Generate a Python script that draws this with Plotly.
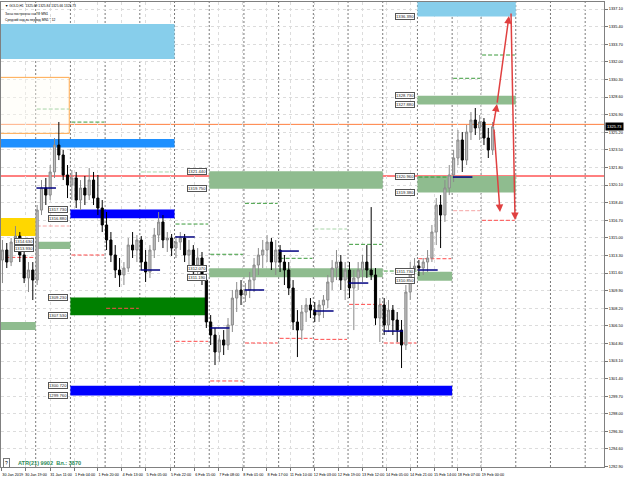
import plotly.graph_objects as go

# ---------------- data (H1 gold, shown as 3-hour candles; x = hour index) ----------------
OPEN = [1312.85, 1313.82, 1312.66, 1314.59, 1315.17, 1313.34, 1311.12, 1311.89, 1310.92, 1317.68,
        1319.81, 1319.13, 1321.36, 1323.96, 1323.00, 1321.07, 1320.10, 1320.78, 1318.65, 1319.81,
        1319.13, 1320.58, 1318.84, 1317.88, 1316.24, 1314.79, 1313.34, 1311.89, 1311.41, 1312.08,
        1314.30, 1313.82, 1314.79, 1312.66, 1311.70, 1313.82, 1315.27, 1316.53, 1314.79, 1314.98,
        1314.01, 1314.59, 1314.98, 1313.34, 1313.82, 1312.37, 1313.05, 1310.92, 1306.87, 1305.61,
        1303.97, 1305.13, 1304.64, 1306.58, 1309.18, 1309.96, 1309.47, 1309.96, 1310.92, 1312.37,
        1313.34, 1313.82, 1314.59, 1312.66, 1313.82, 1312.66, 1311.89, 1310.15, 1306.87, 1306.09,
        1307.83, 1308.51, 1308.02, 1307.54, 1308.51, 1308.99, 1310.73, 1312.08, 1312.66, 1310.92,
        1311.89, 1310.15, 1311.12, 1311.89, 1312.66, 1311.89, 1311.41, 1307.25, 1308.51, 1306.58,
        1308.02, 1307.06, 1306.09, 1304.64, 1309.76, 1311.89, 1312.27, 1312.08, 1312.66, 1313.05,
        1315.56, 1318.17, 1317.20, 1319.81, 1321.07, 1322.71, 1324.45, 1322.51, 1325.22, 1326.38,
        1325.61, 1326.19, 1324.64, 1323.48]
HIGH = [1314.79, 1314.50, 1314.98, 1316.14, 1315.56, 1313.82, 1312.66, 1312.66, 1318.17, 1320.58,
        1320.78, 1322.03, 1324.64, 1326.19, 1323.48, 1322.03, 1321.55, 1321.36, 1320.58, 1320.97,
        1321.74, 1321.36, 1321.07, 1318.65, 1317.49, 1315.56, 1314.30, 1313.05, 1312.66, 1314.98,
        1315.56, 1315.27, 1315.17, 1313.82, 1314.30, 1315.95, 1317.49, 1317.20, 1315.56, 1315.37,
        1315.17, 1315.56, 1315.37, 1314.79, 1314.30, 1314.01, 1313.63, 1311.41, 1307.54, 1306.29,
        1305.61, 1306.09, 1307.25, 1309.96, 1310.73, 1310.92, 1310.63, 1311.70, 1313.05, 1314.01,
        1314.79, 1315.27, 1314.98, 1314.79, 1314.30, 1313.34, 1312.66, 1310.92, 1308.02, 1308.51,
        1309.18, 1309.18, 1308.80, 1308.99, 1309.47, 1311.41, 1312.85, 1313.82, 1313.34, 1312.66,
        1312.66, 1311.89, 1312.66, 1313.34, 1314.30, 1317.97, 1312.08, 1309.18, 1309.18, 1308.99,
        1308.51, 1307.83, 1307.06, 1310.44, 1312.66, 1313.05, 1312.85, 1313.05, 1313.82, 1316.24,
        1318.84, 1319.13, 1320.58, 1322.03, 1323.48, 1325.41, 1325.22, 1325.90, 1327.15, 1327.54,
        1326.86, 1326.57, 1325.61, 1326.19]
LOW = [1310.63, 1312.08, 1312.27, 1313.82, 1312.66, 1310.63, 1309.76, 1308.99, 1310.44, 1317.20,
       1318.17, 1318.65, 1320.78, 1322.51, 1320.58, 1318.84, 1318.65, 1317.88, 1317.68, 1318.17,
       1318.65, 1318.17, 1317.20, 1315.56, 1313.82, 1312.66, 1311.12, 1310.25, 1310.44, 1311.70,
       1313.05, 1312.66, 1311.89, 1310.73, 1311.12, 1313.05, 1314.59, 1314.01, 1313.63, 1313.24,
       1313.05, 1313.82, 1312.66, 1312.08, 1311.41, 1311.12, 1310.44, 1306.29, 1304.64, 1302.71,
       1303.00, 1303.68, 1304.16, 1305.90, 1307.83, 1308.51, 1308.80, 1309.18, 1309.76, 1311.41,
       1312.08, 1312.66, 1311.89, 1311.41, 1311.70, 1310.44, 1309.47, 1306.09, 1303.48, 1305.13,
       1306.87, 1307.25, 1306.87, 1306.87, 1307.25, 1308.22, 1309.96, 1310.92, 1309.96, 1308.99,
       1309.18, 1306.09, 1309.96, 1310.73, 1311.12, 1310.92, 1306.58, 1304.93, 1305.61, 1305.90,
       1305.61, 1304.93, 1302.42, 1304.16, 1308.99, 1310.92, 1311.31, 1311.41, 1311.70, 1312.66,
       1314.30, 1314.01, 1316.53, 1319.13, 1320.39, 1322.03, 1321.36, 1322.03, 1324.45, 1324.93,
       1324.45, 1323.96, 1322.71, 1323.00]
CLOSE = [1313.82, 1312.66, 1314.59, 1315.17, 1313.34, 1311.12, 1311.89, 1310.92, 1317.68, 1319.81,
         1319.13, 1321.36, 1323.96, 1323.00, 1321.07, 1320.10, 1320.78, 1318.65, 1319.81, 1319.13,
         1320.58, 1318.84, 1317.88, 1316.24, 1314.79, 1313.34, 1311.89, 1311.41, 1312.08, 1314.30,
         1313.82, 1314.79, 1312.66, 1311.70, 1313.82, 1315.27, 1316.53, 1314.79, 1314.98, 1314.01,
         1314.59, 1314.98, 1313.34, 1313.82, 1312.37, 1313.05, 1310.92, 1306.87, 1305.61, 1303.97,
         1305.13, 1304.64, 1306.58, 1309.18, 1309.96, 1309.47, 1309.96, 1310.92, 1312.37, 1313.34,
         1313.82, 1314.59, 1312.66, 1313.82, 1312.66, 1311.89, 1310.15, 1306.87, 1306.09, 1307.83,
         1308.51, 1308.02, 1307.54, 1308.51, 1308.99, 1310.73, 1312.08, 1312.66, 1310.92, 1311.89,
         1310.15, 1311.12, 1311.89, 1312.66, 1311.89, 1311.41, 1307.25, 1308.51, 1306.58, 1308.02,
         1307.06, 1306.09, 1304.64, 1309.76, 1311.89, 1312.27, 1312.08, 1312.66, 1313.05, 1315.56,
         1318.17, 1317.20, 1319.81, 1321.07, 1322.71, 1324.45, 1322.51, 1325.22, 1326.38, 1325.61,
         1326.19, 1324.64, 1323.48, 1325.73]
BAR_HOUR = [3 * i + 1 for i in range(len(CLOSE))]

X_TICK_HOURS = [0.5, 16.6, 33.9, 50.5, 66.9, 83.5, 100.1, 116.9, 133.7, 150.3, 166.9, 183.7,
                199.9, 216.5, 233.1, 249.7, 266.3, 282.9, 299.5, 316.0, 332.6]
X_TICK_TEXT = ["30 Jan 2019", "30 Jan 19:00", "31 Jan 11:00", "1 Feb 04:00", "1 Feb 20:00",
               "4 Feb 13:00", "5 Feb 05:00", "5 Feb 22:00", "6 Feb 15:00", "7 Feb 08:00",
               "8 Feb 01:00", "8 Feb 17:00", "11 Feb 10:00", "12 Feb 03:00", "12 Feb 19:00",
               "13 Feb 12:00", "14 Feb 05:00", "14 Feb 21:00", "15 Feb 14:00", "18 Feb 07:00",
               "19 Feb 00:00"]
Y_TICKS = [1337.10, 1335.40, 1333.70, 1332.00, 1330.30, 1328.60, 1326.90, 1325.20, 1323.50,
           1321.80, 1320.10, 1318.40, 1316.70, 1315.00, 1313.30, 1311.60, 1309.90, 1308.20,
           1306.50, 1304.80, 1303.10, 1301.40, 1299.70, 1298.00, 1296.30, 1294.60, 1292.90]

# day boundaries (hour index) used by zones and daily levels
DAY_START = [-6, 24, 48, 72, 96, 120, 144, 168, 192, 216, 240, 264, 288, 312, 332]
DAY_END = [24, 48, 72, 96, 120, 144, 168, 192, 216, 240, 264, 288, 312, 332, 356]
SEPARATORS = [24, 48, 72, 96, 120, 144, 168, 192, 216, 240, 264, 288, 312, 332, 356, 380, 404]

# zones
ZONE_START = [-6, -6, -6, -6, 24, 48, 48, 48, 144, 144, 288, 288, 288, 288]
ZONE_END = [120, 120, 24, 24, 48, 120, 142, 312, 264, 264, 356, 356, 356, 312]
ZONE_TOP = [1335.65, 1324.54, 1316.91, 1306.86, 1314.63, 1317.73, 1309.23, 1300.72,
            1321.44, 1312.07, 1338.60, 1328.73, 1320.96, 1311.73]
ZONE_BOTTOM = [1332.27, 1323.72, 1315.17, 1306.09, 1313.93, 1316.88, 1307.53, 1299.76,
               1319.75, 1311.19, 1336.39, 1327.88, 1319.38, 1310.85]
ZONE_KIND = ["sky", "dodger", "gold", "green", "green", "blue", "dkgreen", "blue",
             "green", "green", "sky", "green", "green", "green"]
ZONE_LABELLED = [False, False, False, False, True, True, True, True, True, True, "bottom", True, True, True]

# daily dashed levels: (day index, price)
GREEN_DAY = [1, 2, 4, 5, 6, 7, 8, 9, 10, 11, 12, 13, 14]
GREEN_LEVEL = [1327.44, 1326.18, 1321.36, 1316.33, 1313.41, 1318.33, 1313.02, 1315.85,
               1314.37, 1311.79, 1320.87, 1330.41, 1332.66]
GREEN_PALE = [True, False, True, False, False, False, False, True, False, False, False, False, False]
RED_DAY = [0, 1, 2, 3, 5, 6, 7, 8, 9, 10, 11, 12, 13, 14]
RED_LEVEL = [1313.11, 1316.14, 1313.34, 1308.19, 1305.00, 1301.17, 1304.84, 1305.29,
             1305.19, 1308.57, 1304.84, 1312.98, 1317.62, 1316.69]
RED_PALE = [False, True, False, False, False, False, False, False, False, False, False, False, True, False]
NAVY_DAY = [1, 4, 5, 6, 7, 8, 9, 10, 11, 12, 13]
NAVY_LEVEL = [1319.81, 1311.89, 1315.08, 1306.29, 1309.96, 1313.72, 1307.93, 1310.63,
              1305.99, 1311.89, 1320.87]

ORANGE_LEVEL = 1325.96
RED_LEVEL_MAIN = 1320.97
ORANGE_BOX = (-6, 47.2, 1330.50, 1325.09)
# arrows: (tail hour, tail price, head hour, head price)
ARROWS = [(340.2, 1325.61, 343.0, 1327.92), (343.0, 1327.92, 351.3, 1336.42),
          (352.7, 1336.81, 355.5, 1316.72), (340.9, 1325.61, 345.1, 1317.49)]
LAST_PRICE = 1325.73

# ---------------- styling ----------------
FONT = "Liberation Sans"
COLORS = {"sky": "#87CEEB", "dodger": "#1E90FF", "gold": "#FFD700", "green": "#8FBC8F",
          "dkgreen": "#008000", "blue": "#0000FF"}
W, H = 640, 480
ML, MR, MT, MB = 1, 36, 2, 13
PW, PH = W - ML - MR, H - MT - MB
X_RANGE = [0, PW / 1.446]
Y_RANGE = [1292.86, 1337.78]

fig = go.Figure()
fig.add_trace(go.Candlestick(
    x=BAR_HOUR, open=OPEN, high=HIGH, low=LOW, close=CLOSE,
    increasing=dict(line=dict(color="#8a8a8a", width=1), fillcolor="#c0c0c0"),
    decreasing=dict(line=dict(color="#000000", width=1), fillcolor="#000000"),
    whiskerwidth=0, showlegend=False, hoverinfo="skip"))

shapes = []
annotations = []

for x0, x1, top, bot, kind in zip(ZONE_START, ZONE_END, ZONE_TOP, ZONE_BOTTOM, ZONE_KIND):
    shapes.append(dict(type="rect", xref="x", yref="y", x0=x0, x1=x1, y0=bot, y1=top,
                       fillcolor=COLORS[kind], line=dict(width=0), layer="between"))

bx0, bx1, btop, bbot = ORANGE_BOX
shapes.append(dict(type="rect", xref="x", yref="y", x0=bx0, x1=bx1, y0=bbot, y1=btop,
                   fillcolor="rgba(255,252,242,0.4)", line=dict(color="#FFA94D", width=1), layer="between"))

for sep in SEPARATORS:
    shapes.append(dict(type="line", xref="x", yref="paper", x0=sep, x1=sep, y0=0, y1=1,
                       line=dict(color="#7a7a7a", width=1, dash="2px,2px"), layer="between"))

shapes.append(dict(type="line", xref="paper", yref="y", x0=0, x1=1, y0=ORANGE_LEVEL, y1=ORANGE_LEVEL,
                   line=dict(color="#FF7F3F", width=1), layer="between"))
shapes.append(dict(type="line", xref="paper", yref="y", x0=0, x1=1, y0=RED_LEVEL_MAIN, y1=RED_LEVEL_MAIN,
                   line=dict(color="#FF0000", width=1), layer="between"))

for d, lv, pale in zip(GREEN_DAY, GREEN_LEVEL, GREEN_PALE):
    shapes.append(dict(type="line", xref="x", yref="y", x0=DAY_START[d] + 0.7, x1=DAY_END[d] - 0.7,
                       y0=lv, y1=lv, layer="between",
                       line=dict(color="#a8d5a8" if pale else "#3a9a3a", width=1, dash="4px,2px")))
for d, lv, pale in zip(RED_DAY, RED_LEVEL, RED_PALE):
    shapes.append(dict(type="line", xref="x", yref="y", x0=DAY_START[d] + 0.7, x1=DAY_END[d] - 0.7,
                       y0=lv, y1=lv, layer="between",
                       line=dict(color="#f5a5a5" if pale else "#ff4b4b", width=1, dash="4px,2px")))
for d, lv in zip(NAVY_DAY, NAVY_LEVEL):
    shapes.append(dict(type="line", xref="x", yref="y", x0=DAY_START[d] + 0.5, x1=DAY_START[d] + 14,
                       y0=lv, y1=lv, layer="above", line=dict(color="#000080", width=1.5)))

# zone price labels
for x0, top, bot, lab in zip(ZONE_START, ZONE_TOP, ZONE_BOTTOM, ZONE_LABELLED):
    if not lab:
        continue
    levels = [bot] if lab == "bottom" else [top, bot]
    for lv in levels:
        annotations.append(dict(x=x0, y=lv, xref="x", yref="y", text=f"{lv:.3f}", showarrow=False,
                                xanchor="right", yanchor="middle", xshift=-2,
                                font=dict(family=FONT, size=4.2, color="#222"),
                                bgcolor="white", bordercolor="#555", borderwidth=1, borderpad=0))

for tx, ty, hx, hy in ARROWS:
    annotations.append(dict(x=hx, y=hy, ax=tx, ay=ty, xref="x", yref="y", axref="x", ayref="y",
                            showarrow=True, arrowhead=2, arrowsize=1, arrowwidth=1.5,
                            arrowcolor="#E04040", text=""))


def px(xp):
    return (xp - ML) / PW


def py(yp):
    return (H - MB - yp) / PH


header = [("▼ GOLD,H1  1325.69 1325.84 1325.66 1325.73", 6.5),
          ("Зоны построены на ТФ MN1", 13.5),
          ("Средний ход за период MN1 * 12", 20)]
for txt, yy in header:
    annotations.append(dict(x=px(3), y=py(yy), xref="paper", yref="paper", text=txt, showarrow=False,
                            xanchor="left", yanchor="middle", font=dict(family=FONT, size=3.3, color="#000")))

annotations.append(dict(x=px(3), y=py(462.5), xref="paper", yref="paper", text="?", showarrow=False,
                        xanchor="left", yanchor="middle", font=dict(family=FONT, size=5, color="#000"),
                        bgcolor="white", bordercolor="#777", borderwidth=1, borderpad=1))
annotations.append(dict(x=px(16), y=py(462.5), xref="paper", yref="paper",
                        text="<b>ATR(21) 9902  Вл.: 3870</b>", showarrow=False,
                        xanchor="left", yanchor="middle", font=dict(family=FONT, size=5.6, color="#2E8B57")))
annotations.append(dict(x=1, y=LAST_PRICE, xref="paper", yref="y", text=f"{LAST_PRICE:.2f}",
                        showarrow=False, xanchor="left", yanchor="middle", xshift=1,
                        font=dict(family=FONT, size=4.0, color="white"), bgcolor="black", borderpad=1))

fig.update_layout(
    width=W, height=H, margin=dict(l=ML, r=MR, t=MT, b=MB, autoexpand=False),
    paper_bgcolor="white", plot_bgcolor="white", showlegend=False,
    shapes=shapes, annotations=annotations,
    xaxis=dict(range=X_RANGE, rangeslider=dict(visible=False), tickmode="array",
               tickvals=X_TICK_HOURS, ticktext=X_TICK_TEXT, ticks="outside", ticklen=3,
               tickangle=0, tickcolor="#777", ticklabelshift=11, showline=True, linecolor="#808080",
               linewidth=1, mirror=True, showgrid=True, gridcolor="#dcdcdc", griddash="dot",
               zeroline=False, tickfont=dict(family=FONT, size=3.8, color="#000")),
    yaxis=dict(range=Y_RANGE, side="right", tickmode="array", tickvals=Y_TICKS,
               tickformat=".2f", ticks="outside", ticklen=3, tickcolor="#777",
               showline=True, linecolor="#808080", linewidth=1, mirror=True,
               showgrid=True, gridcolor="#dcdcdc", griddash="dot", zeroline=False,
               tickfont=dict(family=FONT, size=3.9, color="#000")),
)

fig.write_html("out.html", config={"displayModeBar": False},
               post_script="document.body.style.margin='0';document.body.style.padding='0';")
